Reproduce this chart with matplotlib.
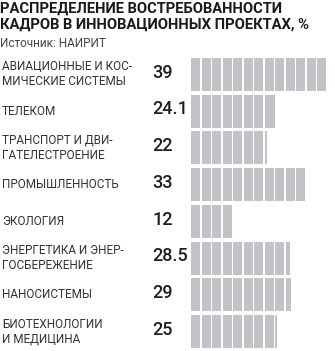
import math
import matplotlib.pyplot as plt
from matplotlib.transforms import blended_transform_factory

categories = ['АВИАЦИОННЫЕ И КОС-\nМИЧЕСКИЕ СИСТЕМЫ', 'ТЕЛЕКОМ',
              'ТРАНСПОРТ И ДВИ-\nГАТЕЛЕСТРОЕНИЕ', 'ПРОМЫШЛЕННОСТЬ', 'ЭКОЛОГИЯ',
              'ЭНЕРГЕТИКА И ЭНЕР-\nГОСБЕРЕЖЕНИЕ', 'НАНОСИСТЕМЫ',
              'БИОТЕХНОЛОГИИ\nИ МЕДИЦИНА']
values = [39, 24.1, 22, 33, 12, 28.5, 29, 25]
value_labels = ['39', '24.1', '22', '33', '12', '28.5', '29', '25']
step = 3  # one block of the bar

W, H = 335, 351
fig = plt.figure(figsize=(W / 100, H / 100), dpi=100)
ax = fig.add_axes([191 / W, 1 / H, 140 / W, 294 / H])
bar_col = '#c4c2c7'

for i, v in enumerate(values):
    n = math.ceil(v / step - 1e-9)
    for k in range(n):
        w = min(step, v - k * step)
        ax.barh(i, w - 0.3, left=k * step, height=0.9, color=bar_col)

ax.set_xlim(0, 40)
ax.set_ylim(len(values) - 0.5, -0.5)
ax.axis('off')

tr = blended_transform_factory(fig.transFigure, ax.transData)
for i, (c, lab) in enumerate(zip(categories, value_labels)):
    ax.text(2 / W, i, c, transform=tr, ha='left', va='center', fontsize=8.5,
            family=['Roboto', 'DejaVu Sans'], color='#333333', linespacing=1.2)
    ax.text(152 / W, i - 0.05, lab, transform=tr, ha='left', va='center', fontsize=13,
            family=['Roboto', 'DejaVu Sans'], fontweight='medium', color='#1e1e1e')

fig.text(0, 1 - 2 / H, 'РАСПРЕДЕЛЕНИЕ ВОСТРЕБОВАННОСТИ\nКАДРОВ В ИННОВАЦИОННЫХ ПРОЕКТАХ, %',
         ha='left', va='top', fontsize=10.6, fontweight='bold',
         family=['Liberation Sans Narrow', 'Roboto', 'DejaVu Sans'], color='#1a1a1a',
         linespacing=1.15)
fig.text(0, 1 - 37 / H, 'Источник: НАИРИТ', ha='left', va='top', fontsize=8.5,
         family=['Roboto', 'DejaVu Sans'], color='#444444')

fig.savefig('out.png', dpi=100)
